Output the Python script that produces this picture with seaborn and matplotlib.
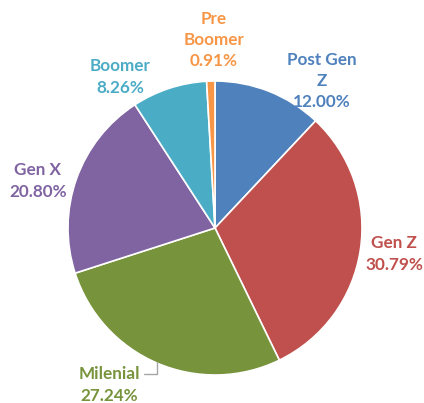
import seaborn as sns
import matplotlib.pyplot as plt

# data
generations = ['Post Gen\nZ', 'Gen Z', 'Milenial', 'Gen X', 'Boomer', 'Pre\nBoomer']
shares = [12.00, 30.79, 27.24, 20.80, 8.26, 0.91]
slice_colors = ['#4F81BD', '#C0504D', '#77933C', '#8064A2', '#4BACC6', '#F79646']

# label placement (figure pixel coords, y from top)
label_pos = [(322, 81), (394, 254), (109, 385), (38, 181), (120, 77), (214, 40)]

sns.set_theme(style="white")
plt.rcParams['font.family'] = ['Lato', 'DejaVu Sans']
palette = sns.color_palette(slice_colors)

W, H = 424, 403
fig = plt.figure(figsize=(W / 100, H / 100), dpi=100)
ax = fig.add_axes([0, 0, 1, 1])

cx, cy, r = 215, H - 228, 147
ax.pie(shares, colors=palette, startangle=90, counterclock=False,
       center=(cx, cy), radius=r, frame=True,
       wedgeprops=dict(edgecolor='white', linewidth=1.2))
ax.set_xlim(0, W)
ax.set_ylim(0, H)
ax.set_aspect('equal')
ax.axis('off')

for name, val, col, (lx, ly) in zip(generations, shares, palette, label_pos):
    ax.text(lx, H - ly, f"{name}\n{val:.2f}%", color=col, fontsize=12.3,
            fontweight='bold', ha='center', va='center', linespacing=1.4)

# leader line for Milenial
ax.plot([144, 157, 157], [H - 374, H - 374, H - 362], color='#A6A6A6', lw=1)

fig.savefig('out.png', dpi=100)
